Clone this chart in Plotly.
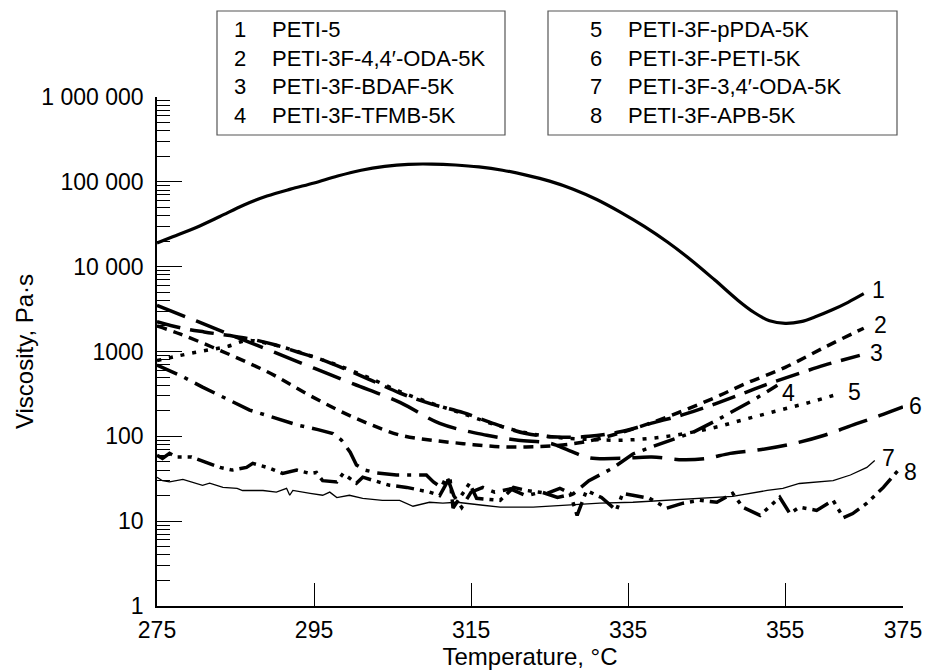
import numpy as np
import plotly.graph_objects as go

# ---------------- data ----------------
T1 = [275, 277, 280, 283, 286, 289, 292, 295, 298, 301, 304, 307, 310, 313, 316, 319, 322, 325, 328,
      331, 334, 337, 340, 343, 346, 349, 351, 353, 355, 357, 359, 361, 363, 365]
V1 = [19000, 22500, 29000, 39000, 53000, 68000, 82000, 97000, 117000, 137000, 152000, 161000, 162000,
      158000, 150000, 137000, 120000, 102000, 82000, 62000, 44000, 30000, 19500, 12000, 7000, 4000,
      2900, 2300, 2150, 2250, 2600, 3100, 3800, 4800]

T2 = [275, 278, 282, 286, 290, 294, 298, 302, 306, 310, 314, 318, 322, 326, 330, 334, 338, 342, 346,
      350, 355, 360, 365]
V2 = [2000, 1600, 1130, 780, 520, 320, 205, 140, 103, 90, 82, 76, 75, 78, 88, 110, 145, 200, 285,
      420, 650, 1120, 1880]

T3 = [275, 278, 281, 284, 287, 290, 293, 296, 299, 302, 306, 310, 314, 318, 322, 326, 330, 334, 338,
      342, 346, 350, 353, 357, 360, 364.5]
V3 = [2250, 1900, 1700, 1550, 1400, 1200, 980, 800, 620, 470, 322, 240, 190, 140, 108, 98, 100, 113,
      143, 180, 240, 330, 420, 560, 690, 900]

T4 = [275, 278, 280.8, 283.5, 286.8, 290, 293, 295.5, 297.4, 298.5, 299.6, 300.4, 301.5, 303, 305.5,
      308, 309.3, 310.2, 311.2, 311.9, 312.8, 313.8, 315, 316.5, 318, 320, 322, 324, 326, 328, 330,
      333, 335.6, 338, 341, 343.3, 346, 348.4, 351, 354]
V4 = [690, 520, 380, 290, 204, 165, 135, 120, 108, 90, 65, 46, 40, 37, 35, 35, 35, 29, 25, 34, 20,
      14.5, 22, 25, 22, 24, 20, 22, 19, 21, 30, 42, 62, 75, 95, 112, 150, 200, 270, 400]

T5 = [275, 278, 281, 284, 286.5, 289, 292, 295, 298, 302, 306, 310, 314, 318, 322, 326, 330, 334,
      338, 342, 346, 350, 354, 358, 362]
V5 = [780, 900, 1020, 1150, 1350, 1250, 1060, 860, 690, 490, 335, 245, 185, 138, 110, 97, 92, 90,
      95, 107, 127, 160, 200, 250, 320]

T6 = [275, 280, 285, 290, 295, 300, 306, 311, 317, 321, 325, 327.5, 330, 334, 338, 342, 345, 348,
      352, 356, 360, 364, 367, 370]
V6 = [3500, 2290, 1490, 975, 635, 415, 250, 142, 103, 90, 83, 68, 56, 55, 57, 53, 55, 63, 70, 82,
      103, 140, 175, 222]

T7 = [275, 275.7, 276.6, 278.3, 280.8, 281.7, 283.4, 285.2, 285.9, 288.5, 290.2, 291.5, 291.9, 292.3,
      294.5, 296.1, 297, 297.9, 299.5, 301.2, 303.7, 305.9, 307.6, 309.7, 311.4, 313.2, 316.5, 318.7,
      322.9, 327.2, 331.4, 335.6, 339.9, 344.1, 348.3, 352.7, 354.7, 356.8, 361.1, 363.3, 365.4, 366.4]
V7 = [33, 30, 29, 31, 26.5, 28, 25, 24.4, 23, 23, 22, 24.4, 20.2, 23, 21.3, 20.2, 22, 19, 20.2, 18.6,
      17.6, 17.6, 15, 16.7, 16.3, 16.7, 15.4, 14.6, 14.6, 15.4, 16.3, 16.7, 17.6, 18.6, 19.6, 23,
      24.4, 27.8, 30, 35, 43, 52]

T8 = [275, 275.7, 276.6, 277.5, 279.4, 281.1, 283, 284.6, 286.4, 287.2, 289.4, 291, 292.8, 294.5,
      295.3, 296.1, 297.9, 298.7, 300.4, 301.2, 302.7, 304.6, 306.8, 309.7, 311, 312.3, 312.7, 314.8,
      315.7, 318.7, 320.4, 322.1, 324.7, 326.3, 327.6, 328.5, 329.7, 331.6, 333.5, 334.3, 337.7,
      339.9, 342, 344.1, 346.3, 348.3, 349.6, 351.8, 354.3, 355.6, 356.8, 359, 361.1, 362.4, 363.6,
      365.4, 367.5, 369.4]
V8 = [60, 55, 63, 57, 57, 50, 43, 40, 43, 48, 42, 36.5, 40, 36.5, 37.5, 30, 29, 36.5, 28, 33, 30,
      26.5, 25, 22, 20, 33, 14.3, 28, 18.6, 17.6, 25, 23, 21.3, 24.4, 21.3, 11.7, 23, 19, 13.4, 21.3,
      18.6, 14.2, 16.3, 17.6, 16.7, 21.3, 14.6, 11.7, 19.1, 12.3, 14.6, 13.4, 17.6, 11, 12.3, 16.3,
      25, 40]

curve_ids = ["1", "2", "3", "4", "5", "6", "7", "8"]
names = ["PETI-5", "PETI-3F-4,4′-ODA-5K", "PETI-3F-BDAF-5K", "PETI-3F-TFMB-5K",
         "PETI-3F-pPDA-5K", "PETI-3F-PETI-5K", "PETI-3F-3,4′-ODA-5K", "PETI-3F-APB-5K"]

x_tickvals = [275, 295, 315, 335, 355, 370]
x_ticktext = ["275", "295", "315", "335", "355", "375"]
y_tickvals = [1, 10, 100, 1000, 10000, 100000, 1000000]
y_ticktext = ["1", "10", "100", "1000", "10 000", "100 000", "1 000 000"]

# ---------------- styling ----------------
FONT = "Liberation Sans, Arial, sans-serif"
W, H = 926, 670
ML, MR, MT, MB = 157, 23, 97, 64

series = [
    (T1, V1, dict(width=3.2, dash="solid"), "spline"),
    (T2, V2, dict(width=3.5, dash="10px,7px"), "spline"),
    (T3, V3, dict(width=3.5, dash="24px,10px"), "spline"),
    (T4, V4, dict(width=3.5, dash="22px,8px,4px,8px"), "linear"),
    (T5, V5, dict(width=3.5, dash="4px,8px"), "spline"),
    (T6, V6, dict(width=3.5, dash="30px,12px"), "spline"),
    (T7, V7, dict(width=1.3, dash="solid"), "linear"),
    (T8, V8, dict(width=3.5, dash="18px,6px,4px,6px,4px,6px"), "linear"),
]

fig = go.Figure()
for (t, v, ln, shape), cid in zip(series, curve_ids):
    fig.add_trace(go.Scatter(x=t, y=v, mode="lines", name=cid,
                             line=dict(color="black", shape=shape, **ln)))

# curve labels at the end of each curve
label_shift = {"1": (6, 4), "2": (8, 3), "3": (8, 2), "4": (3, -8), "5": (6, 1),
               "6": (4, 1), "7": (5, 2), "8": (4, -2)}
for (t, v, _, _), cid in zip(series, curve_ids):
    dx, dy = label_shift[cid]
    fig.add_annotation(x=t[-1], y=np.log10(v[-1]), xref="x", yref="y", text=cid,
                       showarrow=False, xanchor="left", yanchor="middle",
                       xshift=dx, yshift=dy, font=dict(size=23, color="black", family=FONT))

# legend boxes
def px2paper(px, py):
    return (px - ML) / (W - ML - MR), (H - MB - py) / (H - MT - MB)

boxes = [(217, 505, 0, 4, 232, 270), (548, 897, 4, 8, 588, 626)]
for x0p, x1p, i0, i1, numx, namex in boxes:
    ax0, ay0 = px2paper(x0p, 135)
    ax1, ay1 = px2paper(x1p, 11)
    fig.add_shape(type="rect", xref="paper", yref="paper", x0=ax0, x1=ax1, y0=ay0, y1=ay1,
                  line=dict(color="#555555", width=1.2), fillcolor="white", layer="above")
    ymid = px2paper(0, 73)[1]
    fig.add_annotation(xref="paper", yref="paper", x=px2paper(numx, 0)[0], y=ymid,
                       text="<br>".join(curve_ids[i0:i1]), showarrow=False, align="left",
                       xanchor="left", yanchor="middle",
                       font=dict(size=22, color="black", family=FONT))
    fig.add_annotation(xref="paper", yref="paper", x=px2paper(namex, 0)[0], y=ymid,
                       text="<br>".join(names[i0:i1]), showarrow=False, align="left",
                       xanchor="left", yanchor="middle",
                       font=dict(size=22, color="black", family=FONT))

minor_vals = [d * 10 ** k for k in range(0, 6) for d in range(2, 10)]

fig.update_layout(
    width=W, height=H,
    margin=dict(l=ML, r=MR, t=MT, b=MB, pad=0, autoexpand=False),
    plot_bgcolor="white", paper_bgcolor="white",
    showlegend=False,
    font=dict(family=FONT, size=23, color="black"),
    xaxis=dict(range=[275, 370], tickmode="array", tickvals=x_tickvals, ticktext=x_ticktext,
               ticks="inside", ticklen=23, tickwidth=1.3, tickcolor="black",
               showline=True, linecolor="black", linewidth=1.6, showgrid=False, zeroline=False,
               tickfont=dict(size=23), ticklabelstandoff=3, automargin=False,
               title=dict(text="Temperature, °C", standoff=11, font=dict(size=24))),
    yaxis=dict(type="log", range=[0, 6], tickmode="array", tickvals=y_tickvals, ticktext=y_ticktext,
               ticks="inside", ticklen=25, tickwidth=1.3, tickcolor="black",
               showline=True, linecolor="black", linewidth=1.6, showgrid=False, zeroline=False,
               tickfont=dict(size=23), ticklabelstandoff=7, automargin=False,
               minor=dict(ticks="inside", ticklen=13, tickwidth=1.1, tickcolor="black",
                          tickmode="array", tickvals=minor_vals, showgrid=False),
               title=dict(text="Viscosity, Pa·s", standoff=1, font=dict(size=24))),
)

fig.write_html("out.html")
